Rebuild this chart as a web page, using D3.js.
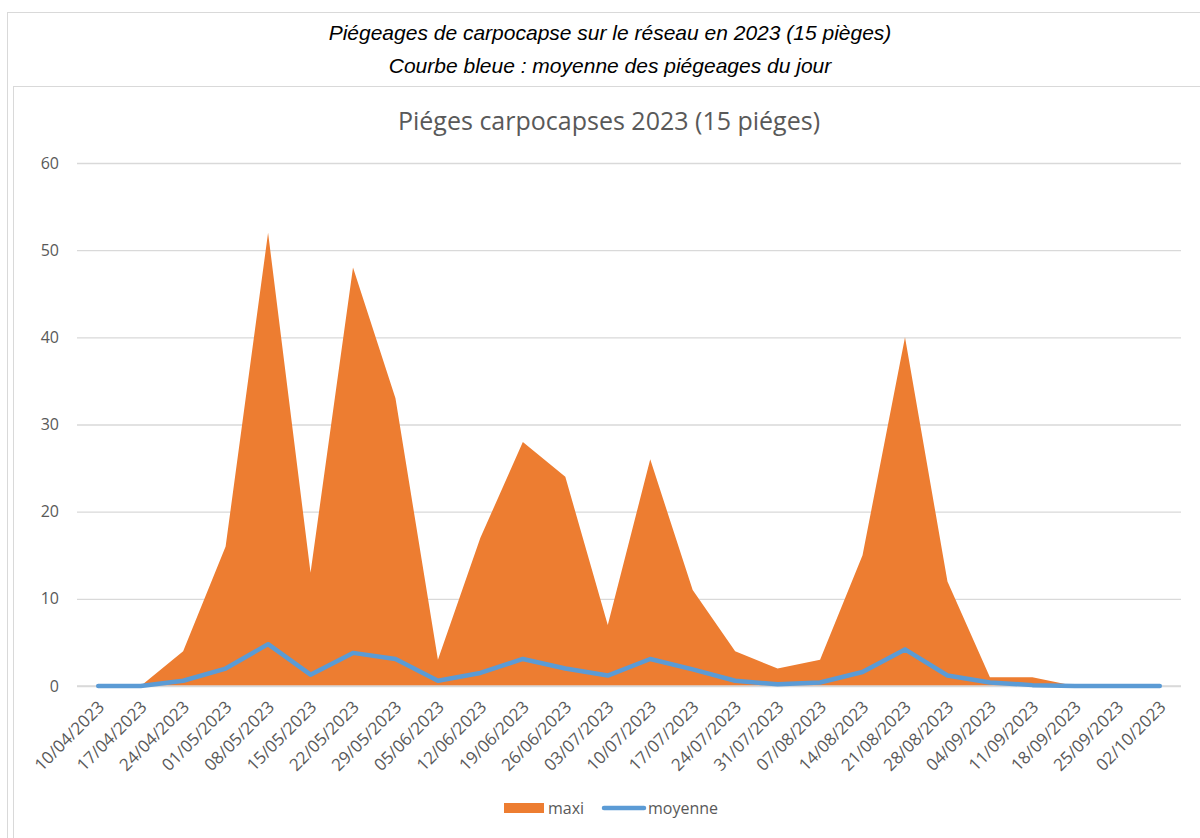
<!DOCTYPE html>
<html>
<head>
<meta charset="utf-8">
<script src="https://cdn.jsdelivr.net/npm/d3@7"></script>
<style>
  body { margin: 0; background: #fff; }
  svg { display: block; }
</style>
</head>
<body>
<svg id="chart" width="1200" height="838"></svg>
<script>
// weekly trap counts, 2023
const dates = ['10/04/2023','17/04/2023','24/04/2023','01/05/2023','08/05/2023','15/05/2023','22/05/2023','29/05/2023','05/06/2023','12/06/2023','19/06/2023','26/06/2023','03/07/2023','10/07/2023','17/07/2023','24/07/2023','31/07/2023','07/08/2023','14/08/2023','21/08/2023','28/08/2023','04/09/2023','11/09/2023','18/09/2023','25/09/2023','02/10/2023'];
const maxi = [0,0,4,16,52,13,48,33,3,17,28,24,7,26,11,4,2,3,15,40,12,1,1,0,0,0];
const moyenne = [0,0,0.6,2,4.8,1.3,3.8,3.1,0.6,1.5,3.1,2,1.2,3.1,1.9,0.6,0.2,0.4,1.6,4.2,1.2,0.4,0.1,0,0,0];
const yTicks = [0,10,20,30,40,50,60];

const orange = '#ED7D31', blue = '#5B9BD5', grey = '#595959';

const svg = d3.select('#chart');

// frames
svg.append('rect').attr('x', 7.5).attr('y', 12.5).attr('width', 1200).attr('height', 900)
  .attr('fill', 'none').attr('stroke', '#d9d9d9');
svg.append('rect').attr('x', 13.5).attr('y', 86.5).attr('width', 1200).attr('height', 900)
  .attr('fill', 'none').attr('stroke', '#d9d9d9');

// header
svg.append('text').attr('x', 610).attr('y', 40).attr('text-anchor', 'middle')
  .style('font', 'italic 21px "Liberation Sans", Arial, sans-serif').attr('fill', '#000')
  .text('Piégeages de carpocapse sur le réseau en 2023 (15 pièges)');
svg.append('text').attr('x', 610).attr('y', 73).attr('text-anchor', 'middle')
  .style('font', 'italic 21px "Liberation Sans", Arial, sans-serif').attr('fill', '#000')
  .text('Courbe bleue : moyenne des piégeages du jour');

// chart title
svg.append('text').attr('x', 609).attr('y', 130).attr('text-anchor', 'middle')
  .style('font', '25px "Open Sans", sans-serif').attr('fill', grey)
  .text('Piéges carpocapses 2023 (15 piéges)');

const x = d3.scaleBand().domain(dates).range([77, 1181]).padding(0);
const y = d3.scaleLinear().domain([0, 60]).range([686, 163]);
const cx = d => x(d) + x.bandwidth() / 2;

// grid
const yAxis = d3.axisLeft(y).tickValues(yTicks).tickSize(-(1181 - 77)).tickPadding(18);
const gy = svg.append('g').attr('transform', 'translate(77,0)').call(yAxis);
gy.select('.domain').remove();
gy.selectAll('.tick line').attr('stroke', '#d9d9d9').attr('stroke-width', 1.3);
gy.selectAll('.tick text').attr('fill', grey).style('font', '16px "Open Sans", sans-serif');

// area maxi
const area = d3.area().x((d, i) => cx(dates[i])).y0(y(0)).y1(d => y(d));
svg.append('path').datum(maxi).attr('d', area).attr('fill', orange);

// x axis line
svg.append('line').attr('x1', 77).attr('x2', 1181).attr('y1', y(0)).attr('y2', y(0))
  .attr('stroke', '#d9d9d9').attr('stroke-width', 1.3);

// line moyenne
const line = d3.line().x((d, i) => cx(dates[i])).y(d => y(d));
svg.append('path').datum(moyenne).attr('d', line).attr('fill', 'none')
  .attr('stroke', blue).attr('stroke-width', 4.5).attr('stroke-linejoin', 'round').attr('stroke-linecap', 'round');

// x labels
svg.append('g').selectAll('text').data(dates).enter().append('text')
  .attr('transform', d => `translate(${cx(d) + 3},${704}) rotate(-45)`)
  .attr('text-anchor', 'end').attr('dy', '0.35em')
  .attr('fill', grey).style('font', '17px "Open Sans", sans-serif')
  .text(d => d);

// legend
const lg = svg.append('g');
lg.append('rect').attr('x', 504).attr('y', 803).attr('width', 40).attr('height', 10).attr('fill', orange);
lg.append('text').attr('x', 548).attr('y', 814).attr('fill', grey).style('font', '16px "Open Sans", sans-serif').text('maxi');
lg.append('line').attr('x1', 604).attr('x2', 644).attr('y1', 808).attr('y2', 808)
  .attr('stroke', blue).attr('stroke-width', 4.5).attr('stroke-linecap', 'round');
lg.append('text').attr('x', 648).attr('y', 814).attr('fill', grey).style('font', '16px "Open Sans", sans-serif').text('moyenne');
</script>
</body>
</html>
